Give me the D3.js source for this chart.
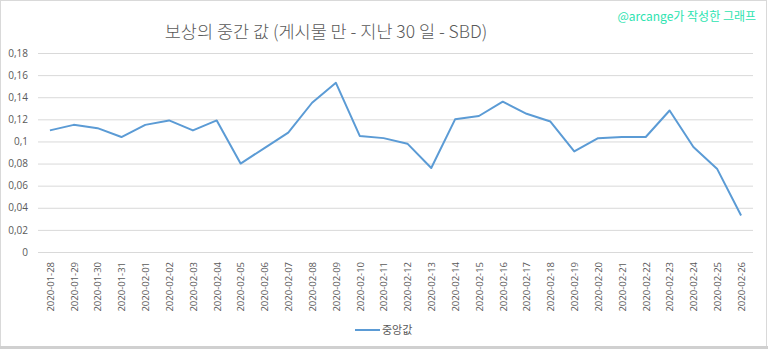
<!DOCTYPE html>
<html>
<head>
<meta charset="utf-8">
<script src="https://cdn.jsdelivr.net/npm/d3@7"></script>
<style>
  html, body { margin: 0; padding: 0; background: #fff; }
  svg { display: block; }
</style>
</head>
<body>
<svg id="chart" width="768" height="349"></svg>
<script>
// Median reward per post over the last 30 days (SBD)
const dates = [
  "2020-01-28","2020-01-29","2020-01-30","2020-01-31","2020-02-01","2020-02-02",
  "2020-02-03","2020-02-04","2020-02-05","2020-02-06","2020-02-07","2020-02-08",
  "2020-02-09","2020-02-10","2020-02-11","2020-02-12","2020-02-13","2020-02-14",
  "2020-02-15","2020-02-16","2020-02-17","2020-02-18","2020-02-19","2020-02-20",
  "2020-02-21","2020-02-22","2020-02-23","2020-02-24","2020-02-25","2020-02-26"
];
const medianValues = [
  0.110, 0.115, 0.112, 0.104, 0.115, 0.119,
  0.110, 0.119, 0.080, 0.094, 0.108, 0.135,
  0.153, 0.105, 0.103, 0.098, 0.076, 0.120,
  0.123, 0.136, 0.125, 0.118, 0.091, 0.103,
  0.104, 0.104, 0.128, 0.095, 0.075, 0.033
];
const yTicks = [0, 0.02, 0.04, 0.06, 0.08, 0.1, 0.12, 0.14, 0.16, 0.18];
const titleText = "보상의 중간 값 (게시물 만 - 지난 30 일 - SBD)";
const creditText = "@arcange가 작성한 그래프";
const seriesName = "중앙값";

const svg = d3.select("#chart");
const W = 768, H = 349;
const plot = { left: 38, right: 753, top: 53, bottom: 252 };
const textColor = "#595959";
const gridColor = "#d9d9d9";
const lineColor = "#5b9bd5";
const fontLatin = "'Open Sans', 'Noto Sans', sans-serif";
const fontKr = "'Noto Sans CJK KR', 'Noto Sans', sans-serif";

// chart frame
svg.append("rect")
  .attr("x", 0.5).attr("y", 0.5)
  .attr("width", W - 2).attr("height", H - 2.5)
  .attr("fill", "#fff")
  .attr("stroke", gridColor);
svg.append("line")
  .attr("x1", 0).attr("x2", W)
  .attr("y1", H - 1.5).attr("y2", H - 1.5)
  .attr("stroke", "#d0d0d0").attr("stroke-width", 3);

const x = d3.scalePoint()
  .domain(dates)
  .range([plot.left, plot.right])
  .padding(0.5);

const y = d3.scaleLinear()
  .domain([0, 0.18])
  .range([plot.bottom, plot.top]);

const fmt = d => String(+d.toFixed(2)).replace(".", ",");

// horizontal gridlines + y labels
const yAxis = d3.axisLeft(y)
  .tickValues(yTicks)
  .tickSize(-(plot.right - plot.left))
  .tickPadding(10)
  .tickFormat(fmt);

const gy = svg.append("g")
  .attr("transform", `translate(${plot.left},0)`)
  .call(yAxis);
gy.select(".domain").remove();
gy.selectAll(".tick line").attr("stroke", gridColor).attr("stroke-width", 1);
gy.selectAll(".tick text")
  .attr("fill", textColor)
  .style("font-family", fontLatin)
  .style("font-size", "10px");

// x axis labels (rotated)
const xAxis = d3.axisBottom(x).tickSize(0).tickPadding(0);
const gx = svg.append("g")
  .attr("transform", `translate(0,${plot.bottom})`)
  .call(xAxis);
gx.select(".domain").remove();
gx.selectAll(".tick text")
  .attr("fill", textColor)
  .style("font-family", fontLatin)
  .style("font-size", "9.5px")
  .attr("text-anchor", "end")
  .attr("dy", "0.35em")
  .attr("transform", "translate(0,10) rotate(-90)")
  .attr("x", 0).attr("y", 0);

// series line
const line = d3.line()
  .x((d, i) => x(dates[i]))
  .y(d => y(d));

svg.append("path")
  .datum(medianValues)
  .attr("fill", "none")
  .attr("stroke", lineColor)
  .attr("stroke-width", 2)
  .attr("stroke-linejoin", "round")
  .attr("d", line);

// title
svg.append("text")
  .attr("x", 326).attr("y", 38)
  .attr("text-anchor", "middle")
  .attr("fill", textColor)
  .style("font-family", fontKr)
  .style("font-weight", 300)
  .style("font-size", "17.5px")
  .text(titleText);

// credit
svg.append("text")
  .attr("x", 756).attr("y", 21)
  .attr("text-anchor", "end")
  .attr("fill", "#2de3b0")
  .style("font-family", fontKr)
  .style("font-size", "12px")
  .text(creditText);

// legend
const legend = svg.append("g").attr("transform", "translate(355,330)");
legend.append("line")
  .attr("x1", 0).attr("x2", 25)
  .attr("y1", 0).attr("y2", 0)
  .attr("stroke", lineColor).attr("stroke-width", 2);
legend.append("text")
  .attr("x", 27).attr("y", 0)
  .attr("dy", "0.35em")
  .attr("fill", textColor)
  .style("font-family", fontKr)
  .style("font-size", "11px")
  .text(seriesName);
</script>
</body>
</html>
